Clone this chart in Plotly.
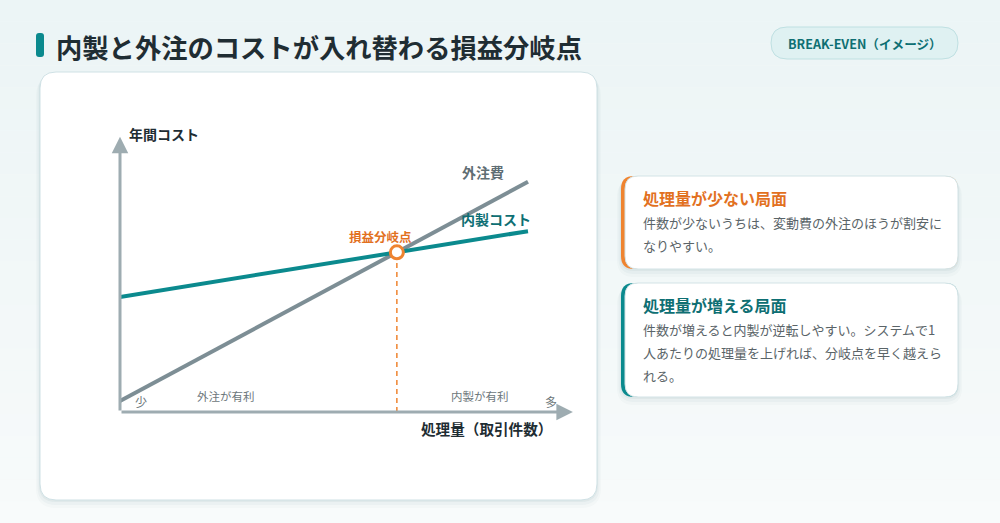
import plotly.graph_objects as go

# ---------------- data ----------------
volume = [0, 10]                  # 処理量（相対）
outsourcing_cost = [0.4, 8.4]     # 外注費
inhouse_cost = [4.2, 6.6]         # 内製コスト

title_text = "内製と外注のコストが入れ替わる損益分岐点"
badge_text = "BREAK-EVEN（イメージ）"
y_axis_label = "年間コスト"
x_axis_label = "処理量（取引件数）"
series_names = ["外注費", "内製コスト"]
bep_label = "損益分岐点"
zone_labels = ["外注が有利", "内製が有利"]
end_labels = ["少", "多"]
card_titles = ["処理量が少ない局面", "処理量が増える局面"]
card_bodies = [
    ["件数が少ないうちは、変動費の外注のほうが割安に", "なりやすい。"],
    ["件数が増えると内製が逆転しやすい。システムで1",
     "人あたりの処理量を上げれば、分岐点を早く越えら", "れる。"],
]

W, H = 1000, 523
FONT = "Noto Sans CJK JP"
TEAL = "#0b8a8e"
TEAL_DARK = "#0e6f73"
ORANGE = "#ef8430"
ORANGE_TXT = "#e2711f"
GRAY_LINE = "#7d8e95"
AXIS = "#9eacb1"
DARK = "#1f2d33"
BODY = "#5a6468"


def px(x):
    return x / W


def py(y):
    return 1 - y / H


def rrect(x0, y0, x1, y1, r):
    rx, ry = r / W, r / H
    X0, X1 = px(x0), px(x1)
    Y0, Y1 = py(y0), py(y1)
    return (f"M{X0+rx},{Y0} L{X1-rx},{Y0} Q{X1},{Y0} {X1},{Y0-ry} "
            f"L{X1},{Y1+ry} Q{X1},{Y1} {X1-rx},{Y1} L{X0+rx},{Y1} "
            f"Q{X0},{Y1} {X0},{Y1+ry} L{X0},{Y0-ry} Q{X0},{Y0} {X0+rx},{Y0} Z")


shapes = []
annotations = []

# background gradient (soft bands)
bands = 24
for i in range(bands):
    t = i / (bands - 1)
    c0 = (236, 245, 246)
    c1 = (248, 251, 251)
    col = tuple(int(c0[k] + (c1[k] - c0[k]) * t) for k in range(3))
    shapes.append(dict(type="rect", xref="paper", yref="paper", layer="below",
                       x0=0, x1=1, y0=py(H * (i + 1) / bands), y1=py(H * i / bands),
                       fillcolor=f"rgb{col}", line=dict(width=0)))


def card(x0, y0, x1, y1, r, accent=None):
    for k, a in [(8, 0.025), (5, 0.035), (2, 0.05)]:
        shapes.append(dict(type="path", xref="paper", yref="paper", layer="below",
                           path=rrect(x0 - k / 2, y0 + k / 2, x1 + k / 2, y1 + k, r + k / 2),
                           fillcolor=f"rgba(40,90,100,{a})", line=dict(width=0)))
    if accent:
        shapes.append(dict(type="path", xref="paper", yref="paper", layer="below",
                           path=rrect(x0, y0, x1, y1, r), fillcolor=accent,
                           line=dict(width=0)))
        shapes.append(dict(type="path", xref="paper", yref="paper", layer="below",
                           path=rrect(x0 + 4, y0, x1, y1, r), fillcolor="white",
                           line=dict(color="#d3e3e6", width=1)))
    else:
        shapes.append(dict(type="path", xref="paper", yref="paper", layer="below",
                           path=rrect(x0, y0, x1, y1, r), fillcolor="white",
                           line=dict(color="#cfe1e5", width=1)))


card(40, 72, 597, 500, 16)
card(621, 176, 958, 269, 13, ORANGE)
card(621, 283, 958, 397, 13, TEAL)

shapes.append(dict(type="path", xref="paper", yref="paper",
                   path=rrect(36, 33, 44, 57, 3), fillcolor=TEAL, line=dict(width=0)))
annotations.append(dict(x=px(54), y=py(46), xref="paper", yref="paper", text=f"<b>{title_text}</b>",
                        showarrow=False, xanchor="left", yanchor="middle",
                        font=dict(family=FONT, size=26.3, color=DARK)))

shapes.append(dict(type="path", xref="paper", yref="paper",
                   path=rrect(771, 27, 958, 59, 16), fillcolor="#dff1f2",
                   line=dict(color="#bfe0e2", width=1)))
annotations.append(dict(x=px(864.5), y=py(43), xref="paper", yref="paper", text=f"<b>{badge_text}</b>",
                        showarrow=False, xanchor="center", yanchor="middle",
                        font=dict(family=FONT, size=12.6, color=TEAL_DARK)))

card_tops = [176, 283]
card_cols = [ORANGE_TXT, TEAL_DARK]
for i in range(2):
    top = card_tops[i]
    annotations.append(dict(x=px(641), y=py(top + 22), xref="paper", yref="paper",
                            text=f"<b>{card_titles[i]}</b>", showarrow=False,
                            xanchor="left", yanchor="middle",
                            font=dict(family=FONT, size=16, color=card_cols[i])))
    for j, line in enumerate(card_bodies[i]):
        annotations.append(dict(x=px(641), y=py(top + 46 + 23 * j), xref="paper", yref="paper",
                                text=line, showarrow=False, xanchor="left", yanchor="middle",
                                font=dict(family=FONT, size=13, color=BODY)))

# ---------------- chart ----------------
fig = go.Figure()

s_out = (outsourcing_cost[1] - outsourcing_cost[0]) / (volume[1] - volume[0])
s_in = (inhouse_cost[1] - inhouse_cost[0]) / (volume[1] - volume[0])
bx = (inhouse_cost[0] - outsourcing_cost[0]) / (s_out - s_in)
by = inhouse_cost[0] + s_in * bx

fig.add_trace(go.Scatter(x=[bx, bx], y=[0, by], mode="lines",
                         line=dict(color=ORANGE, width=1.5, dash="5px,4px"),
                         hoverinfo="skip", showlegend=False))
fig.add_trace(go.Scatter(x=volume, y=outsourcing_cost, mode="lines",
                         line=dict(color=GRAY_LINE, width=4), name=series_names[0],
                         showlegend=False))
fig.add_trace(go.Scatter(x=volume, y=inhouse_cost, mode="lines",
                         line=dict(color=TEAL, width=4), name=series_names[1],
                         showlegend=False))
fig.add_trace(go.Scatter(x=[bx], y=[by], mode="markers",
                         marker=dict(size=13, color="white", line=dict(color=ORANGE, width=3)),
                         name=bep_label, showlegend=False))

annotations.append(dict(x=11.1, y=0, ax=0, ay=0, xref="x", yref="y", axref="x", ayref="y",
                        showarrow=True, arrowhead=2, arrowsize=1.1, arrowwidth=3,
                        arrowcolor=AXIS, text=""))
annotations.append(dict(x=0, y=10.05, ax=0, ay=0, xref="x", yref="y", axref="x", ayref="y",
                        showarrow=True, arrowhead=2, arrowsize=1.1, arrowwidth=3,
                        arrowcolor=AXIS, text=""))


def pxt(x, y, text, size, color, bold=False, anchor="center"):
    annotations.append(dict(x=px(x), y=py(y), xref="paper", yref="paper",
                            text=f"<b>{text}</b>" if bold else text, showarrow=False,
                            xanchor=anchor, yanchor="middle",
                            font=dict(family=FONT, size=size, color=color)))


pxt(127, 134, y_axis_label, 14, DARK, True, "left")
pxt(419, 428, x_axis_label, 14.6, DARK, True, "left")
pxt(460, 172, series_names[0], 14, "#5f6e74", True, "left")
pxt(459, 219, series_names[1], 14, TEAL_DARK, True, "left")
pxt(380, 237, bep_label, 12.5, ORANGE_TXT, True, "center")
pxt(226, 396, zone_labels[0], 11.5, "#6d777b")
pxt(480, 396, zone_labels[1], 11.5, "#6d777b")
pxt(141, 401, end_labels[0], 12, "#6d777b")
pxt(551, 401, end_labels[1], 12, "#6d777b")

fig.update_layout(
    width=W, height=H, margin=dict(l=0, r=0, t=0, b=0),
    paper_bgcolor="#f3f9f9", plot_bgcolor="rgba(0,0,0,0)",
    shapes=shapes, annotations=annotations, showlegend=False,
    xaxis=dict(domain=[px(120), px(120 + 40.8 * 11.08)], range=[0, 11.08],
               visible=False, fixedrange=True),
    yaxis=dict(domain=[py(412), py(138)], range=[0, 10], visible=False, fixedrange=True),
    font=dict(family=FONT),
)

fig.write_html("out.html", config={"displayModeBar": False},
               post_script="document.body.style.margin='0';document.body.style.overflow='hidden';")
